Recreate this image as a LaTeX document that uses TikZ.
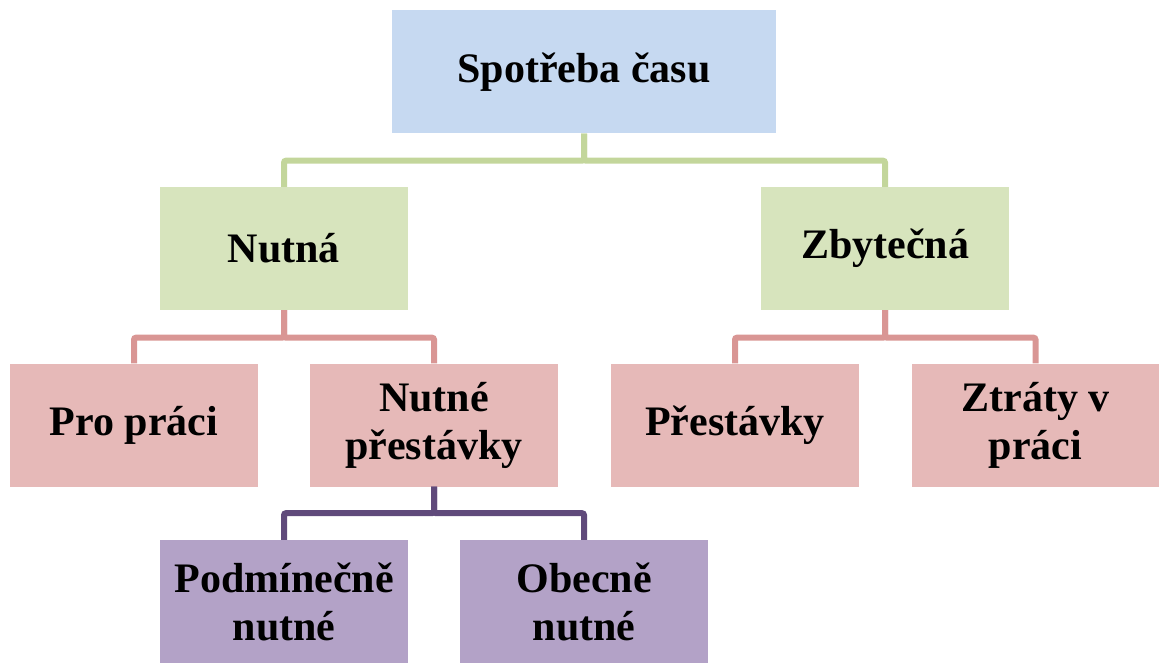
\documentclass[tikz,border=0pt]{standalone}
\usepackage{fontspec}
\setmainfont{Liberation Serif}
\definecolor{rootfill}{HTML}{C6D9F1}
\definecolor{lvlonefill}{HTML}{D7E4BD}
\definecolor{lvltwofill}{HTML}{E6B9B8}
\definecolor{lvlthreefill}{HTML}{B3A2C7}
\definecolor{lvloneline}{HTML}{C3D69B}
\definecolor{lvltwoline}{HTML}{D99694}
\definecolor{lvlthreeline}{HTML}{604A7B}
\begin{document}
\begin{tikzpicture}[x=1pt,y=-1pt,
  box/.style={minimum width=248pt, minimum height=123pt, inner sep=0pt,
    align=center, font=\fontsize{42}{48}\selectfont\bfseries},
  link/.style={line width=6pt, rounded corners=2pt}]
\useasboundingbox (0,0) rectangle (1159,663);

% boxes
\node[box, fill=rootfill, minimum width=384pt] (root) at (584,72) {\raisebox{-3pt}{Spotřeba času}};
\node[box, fill=lvlonefill] (nutna) at (284,248.5) {Nutná};
\node[box, fill=lvlonefill] (zbytecna) at (885,248.5) {Zbytečná};
\node[box, fill=lvltwofill] (prace) at (134,425) {Pro práci};
\node[box, fill=lvltwofill] (nprest) at (434,425) {Nutné\\přestávky};
\node[box, fill=lvltwofill] (prest) at (735,425) {Přestávky};
\node[box, fill=lvltwofill] (ztraty) at (1035.5,425) {Ztráty v\\práci};
\node[box, fill=lvlthreefill] (podm) at (284,601.5) {Podmínečně\\nutné};
\node[box, fill=lvlthreefill] (obec) at (584,601.5) {Obecně\\nutné};

% connectors
\draw[link, lvloneline] (root.south) -- ++(0,27) -| (nutna.north);
\draw[link, lvloneline] (root.south) -- ++(0,27) -| (zbytecna.north);
\draw[link, lvltwoline] (nutna.south) -- ++(0,27.5) -| (prace.north);
\draw[link, lvltwoline] (nutna.south) -- ++(0,27.5) -| (nprest.north);
\draw[link, lvltwoline] (zbytecna.south) -- ++(0,27.5) -| (prest.north);
\draw[link, lvltwoline] (zbytecna.south) -- ++(0,27.5) -| (ztraty.north);
\draw[link, lvlthreeline] (nprest.south) -- ++(0,26.5) -| (podm.north);
\draw[link, lvlthreeline] (nprest.south) -- ++(0,26.5) -| (obec.north);
\end{tikzpicture}
\end{document}
